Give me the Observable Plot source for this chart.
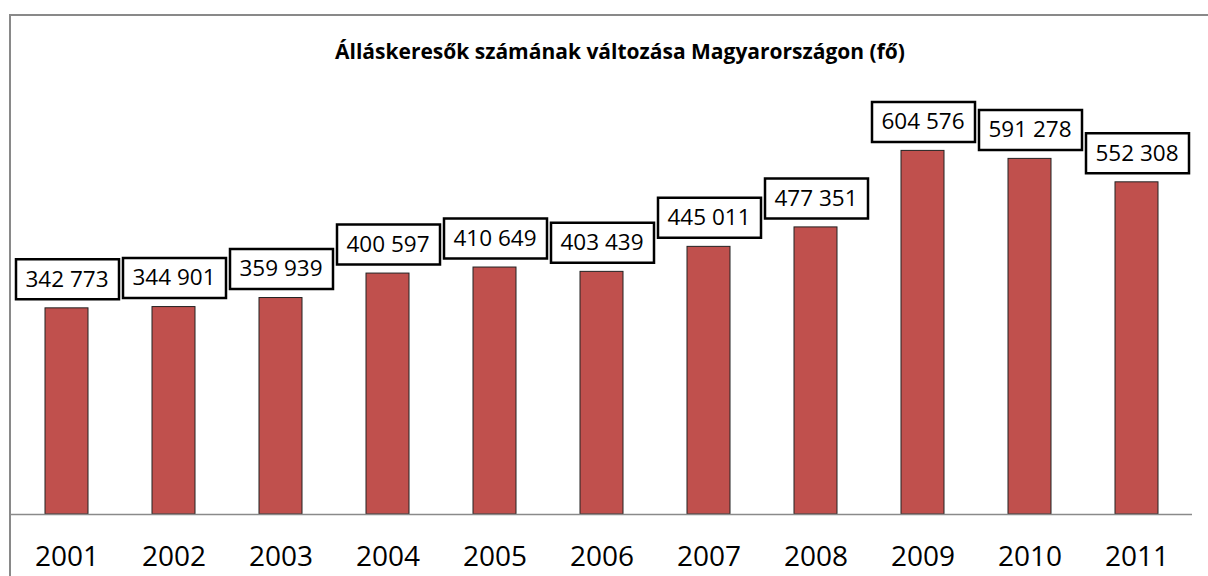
<!DOCTYPE html>
<html>
<head>
<meta charset="utf-8">
<script src="https://cdn.jsdelivr.net/npm/d3@7"></script>
<script src="https://cdn.jsdelivr.net/npm/@observablehq/plot@0.6"></script>
<style>
  html, body { margin: 0; padding: 0; background: #fff; overflow: hidden; }
  #wrap { position: relative; width: 1208px; height: 576px; }
  #frame { position: absolute; left: 9px; top: 14px; width: 1300px; height: 700px;
           border-left: 2.5px solid #898989; border-top: 2.5px solid #898989; pointer-events: none; }
  svg { font-family: "Open Sans", sans-serif; }
</style>
</head>
<body>
<div id="wrap"><div id="frame"></div></div>
<script>
const years = ["2001","2002","2003","2004","2005","2006","2007","2008","2009","2010","2011"];
const values = [342773, 344901, 359939, 400597, 410649, 403439, 445011, 477351, 604576, 591278, 552308];
const titleText = "Álláskeresők számának változása Magyarországon (fő)";

const data = years.map((year, i) => ({year, value: values[i]}));
const fmt = d3.formatLocale({decimal: ",", thousands: " ", grouping: [3]}).format(",");
const box = { draw(ctx) { ctx.rect(-51, -20, 103, 40); } };

const chart = Plot.plot({
  width: 1208,
  height: 576,
  marginLeft: 11,
  marginRight: 16,
  marginTop: 93,
  marginBottom: 62,
  style: { fontFamily: "'Open Sans', sans-serif", background: "transparent" },
  x: { domain: years, paddingInner: 0.6, paddingOuter: 0.28, label: null },
  y: { domain: [0, 700000], axis: null },
  marks: [
    Plot.barY(data, { x: "year", y: "value", fill: "#C0504D", stroke: "#222", strokeWidth: 1 }),
    Plot.ruleY([0], { stroke: "#8a8a8a", strokeWidth: 1.5 }),
    Plot.axisX({ tickSize: 0, tickPadding: 32, fontSize: 28, fill: "#000" }),
    Plot.dot(data, { x: "year", y: "value", dy: -29, symbol: box, fill: "#fff", stroke: "#000", strokeWidth: 2.5 }),
    Plot.text(data, { x: "year", y: "value", dy: -29, text: d => fmt(d.value), fontSize: 22.5, fill: "#000", lineAnchor: "middle" }),
    Plot.text([titleText], { frameAnchor: "top", dx: 18, dy: -41, lineAnchor: "middle", text: d => d, fontSize: 21, fontWeight: "bold", fill: "#000", letterSpacing: "0.4px" })
  ]
});
document.getElementById("wrap").prepend(chart);
</script>
</body>
</html>
